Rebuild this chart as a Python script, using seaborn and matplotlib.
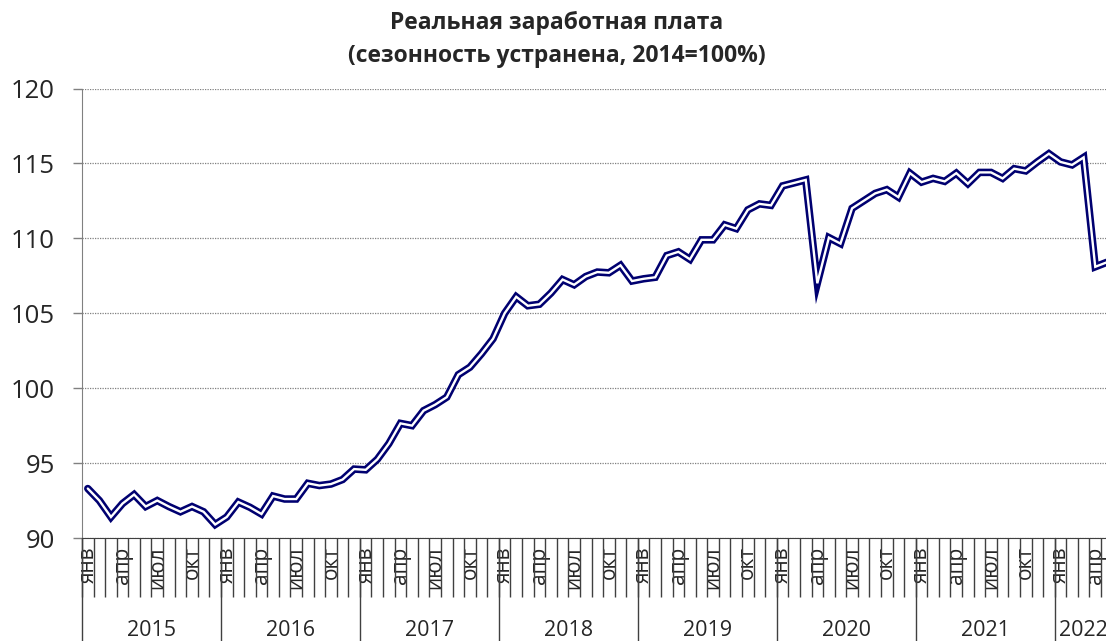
import numpy as np
import pandas as pd
import seaborn as sns
import matplotlib.pyplot as plt
import matplotlib.transforms as mtransforms

# monthly real wage index, Jan 2015 .. May 2022 (seasonally adjusted, 2014=100)
values = [93.3, 92.5, 91.4, 92.3, 92.9, 92.1, 92.5, 92.1, 91.75, 92.1, 91.75, 90.9,
          91.4, 92.4, 92.05, 91.6, 92.8, 92.6, 92.6, 93.65, 93.5, 93.6, 93.9, 94.6,
          94.55, 95.25, 96.3, 97.65, 97.5, 98.5, 98.9, 99.4, 100.9, 101.4, 102.3, 103.3,
          105.0, 106.1, 105.5, 105.6, 106.35, 107.25, 106.9, 107.45, 107.75, 107.7, 108.2, 107.15,
          107.3, 107.4, 108.85, 109.1, 108.6, 109.9, 109.9, 110.9, 110.65, 111.9, 112.3, 112.2,
          113.5, 113.7, 113.9, 107.0, 110.05, 109.65, 112.0, 112.5, 113.0, 113.25, 112.75, 114.35,
          113.75, 114.0, 113.8, 114.35, 113.65, 114.4, 114.4, 114.0, 114.65, 114.5, 115.1, 115.65,
          115.1, 114.9, 115.4, 108.1, 108.4]
month_names = ['янв', 'фев', 'мар', 'апр', 'май', 'июн',
               'июл', 'авг', 'сен', 'окт', 'ноя', 'дек']
years = ['2015', '2016', '2017', '2018', '2019', '2020', '2021', '2022']
shown_months = ['янв', 'апр', 'июл', 'окт']

n = len(values)
df = pd.DataFrame({'idx': np.arange(n), 'value': values})
month_labels = [month_names[i % 12] if month_names[i % 12] in shown_months else ''
                for i in range(n)]

sns.set_style('white')
plt.rcParams['font.family'] = ['Open Sans', 'DejaVu Sans']

fig = plt.figure(figsize=(11.06, 6.41), dpi=100)
ax = fig.add_axes([82 / 1106, 103 / 641, 1030.6 / 1106, 449.5 / 641])

navy = '#000070'
sns.lineplot(data=df, x='idx', y='value', ax=ax, color=navy, lw=5.4,
             solid_joinstyle='miter', zorder=3)
sns.lineplot(data=df, x='idx', y='value', ax=ax, color='white', lw=1.7,
             solid_joinstyle='miter', zorder=4)

ax.set_xlim(-0.5, n - 0.5)
ax.set_ylim(90, 120)
ax.set_yticks(range(90, 121, 5))
ax.yaxis.grid(True, color='#808080', linestyle=(0, (1, 1)), lw=0.9)
ax.set_axisbelow(True)
ax.tick_params(axis='y', labelsize=18.5, length=6.5, width=1, color='#808080',
               pad=13, direction='out', left=True)

ax.set_xticks(range(n))
ax.set_xticklabels(month_labels, rotation=90, fontsize=15, va='top')
ax.set_xticks(np.arange(n + 1) - 0.5, minor=True)
ax.tick_params(axis='x', which='major', length=0, pad=6)
ax.tick_params(axis='x', which='minor', length=42.5, width=1, color='#404040',
               direction='out', bottom=True)
ax.set_xlabel('')
ax.set_ylabel('')

for s in ['top', 'right']:
    ax.spines[s].set_visible(False)
ax.spines['left'].set_color('#808080')
ax.spines['bottom'].set_color('#404040')

# year separators and year labels
trans = mtransforms.blended_transform_factory(ax.transData, ax.transAxes)
for k, yr in enumerate(years):
    start = k * 12 - 0.5
    ax.plot([start, start], [0, -0.24], transform=trans, color='#404040',
            lw=1, clip_on=False)
    end = min(start + 12, n - 0.5)
    ax.text((start + end) / 2, -0.205, yr, transform=trans, ha='center',
            va='center', fontsize=15.5)

fig.text(0.503, 0.983, 'Реальная заработная плата\n(сезонность устранена, 2014=100%)',
         ha='center', va='top', fontsize=16.5, fontweight='bold', linespacing=1.5)

fig.savefig('out.png', dpi=100)
